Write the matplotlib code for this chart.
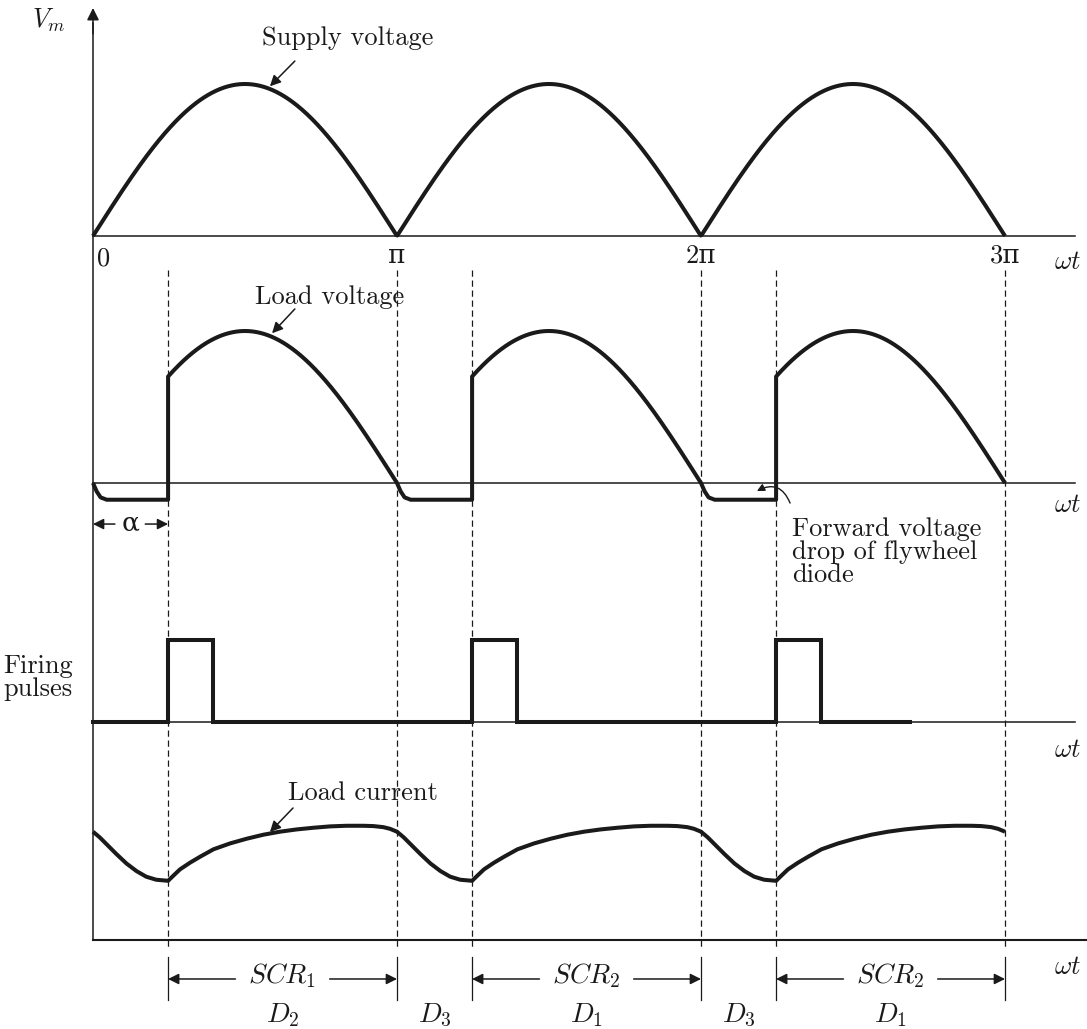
import numpy as np
import matplotlib
matplotlib.use("Agg")
import matplotlib.pyplot as plt
from matplotlib.patches import FancyArrowPatch

plt.rcParams['mathtext.fontset'] = 'cm'
plt.rcParams['font.family'] = ['cmr10', 'DejaVu Serif']
plt.rcParams['axes.unicode_minus'] = False

INK = '#1a1a1a'

# ---- waveform data (angles in units of pi, voltages per unit of Vm) ----
alpha = 0.247            # firing delay angle
pulse_width = 0.148      # gate pulse width
pulse_height = 0.54
pulse_train_end = 2.688
diode_drop = -0.11       # forward drop of the flywheel diode
half_cycles = [0, 1, 2]

tick_positions = [0, 1, 2, 3]
tick_labels = ["0", "π", "2π", "3π"]

# knee of the load voltage as the flywheel diode takes over
knee_offsets = [0.0, 0.012, 0.025, 0.045]
knee_fraction = [0.0, 0.5, 0.86, 1.0]

# load current while freewheeling (offset from k*pi)
fw_offsets = [0.0, 0.022, 0.044, 0.077, 0.110, 0.143, 0.175, 0.208, 0.247]
fw_current = [0.713, 0.676, 0.632, 0.566, 0.504, 0.454, 0.417, 0.397, 0.390]
# load current while an SCR conducts (offset from k*pi)
cond_offsets = [0.247, 0.264, 0.286, 0.319, 0.352, 0.396, 0.451, 0.506, 0.560,
                0.615, 0.670, 0.725, 0.780, 0.834, 0.889, 0.922, 0.955, 0.977, 1.0]
cond_current = [0.390, 0.423, 0.465, 0.509, 0.548, 0.597, 0.636, 0.667, 0.693,
                0.713, 0.728, 0.739, 0.748, 0.752, 0.752, 0.750, 0.743, 0.732, 0.713]

scr_labels = ["$SCR_1$", "$SCR_2$", "$SCR_2$"]
diode_labels = ["$D_2$", "$D_3$", "$D_1$", "$D_3$", "$D_1$"]

# ---- layout: baselines of the stacked traces ----
Y_SUPPLY = 0.0
Y_LOAD = -1.625
Y_FIRE = -3.197
Y_CURR = -4.632
X_END = 3.23

fig = plt.figure(figsize=(10.87, 10.29), dpi=100)
ax = fig.add_axes([0, 0, 1, 1])
ax.set_xlim(-0.3059, 3.2697)
ax.set_ylim(-5.217, 1.5526)
ax.axis('off')

curve_kw = dict(color=INK, lw=2.9, solid_joinstyle='round', solid_capstyle='butt')
axis_kw = dict(color=INK, lw=1.1)

# axes lines
ax.plot([0, 0], [Y_CURR, 1.40], **axis_kw)
ax.annotate('', xy=(0, 1.50), xytext=(0, 1.33),
            arrowprops=dict(arrowstyle='-|>', color=INK, lw=1.1,
                            mutation_scale=18, shrinkA=0, shrinkB=0))
for yb in (Y_SUPPLY, Y_LOAD, Y_FIRE):
    ax.plot([0, X_END], [yb, yb], **axis_kw)
ax.plot([0, 3.2697], [Y_CURR, Y_CURR], color=INK, lw=1.5)

# supply voltage
theta = np.linspace(0, 3, 900)
ax.plot(theta, Y_SUPPLY + np.abs(np.sin(np.pi * theta)), **curve_kw)

# load voltage
lt, lv = [], []
for k in half_cycles:
    for o, f in zip(knee_offsets, knee_fraction):
        lt.append(k + o)
        lv.append(f * diode_drop)
    lt.append(k + alpha)
    lv.append(diode_drop)
    th = np.linspace(k + alpha, k + 1, 300)
    lt.extend(th)
    lv.extend(np.abs(np.sin(np.pi * th)))
ax.plot(lt, Y_LOAD + np.array(lv), **curve_kw)

# firing pulses
ft, fv = [0.0], [0.0]
for k in half_cycles:
    t0 = k + alpha
    ft += [t0, t0, t0 + pulse_width, t0 + pulse_width]
    fv += [0, pulse_height, pulse_height, 0]
ft.append(pulse_train_end)
fv.append(0.0)
ax.plot(ft, Y_FIRE + np.array(fv), color=INK, lw=2.9, solid_joinstyle='miter')

# load current
ct, cv = [], []
for k in half_cycles:
    ct += [k + o for o in fw_offsets]
    cv += fw_current
    ct += [k + o for o in cond_offsets[1:]]
    cv += cond_current[1:]
ax.plot(ct, Y_CURR + np.array(cv), **curve_kw)

# dashed switching instants
switch_points = sorted([k + alpha for k in half_cycles] + [1, 2, 3])
for xs in switch_points:
    ax.plot([xs, xs], [-0.224, -4.678], color=INK, lw=0.9, ls=(0, (5, 3)))
    ax.plot([xs, xs], [-4.743, -5.026], color=INK, lw=0.9)

txt_kw = dict(color=INK, fontsize=19)
math_kw = dict(color=INK, fontsize=19)

# tick labels
ax.text(0.036, -0.15, tick_labels[0], ha='center', va='center', **txt_kw)
for xp, lab in zip(tick_positions[1:], tick_labels[1:]):
    ax.text(xp, -0.13, lab, ha='center', va='center', **txt_kw)

# omega-t labels
for yl in (-0.171, -1.770, -3.382, -4.809):
    ax.text(3.207, yl, r'$\omega t$', ha='center', va='center', **math_kw)

ax.text(-0.145, 1.42, r'$V_m$', ha='center', va='center', **math_kw)

arrow_kw = dict(arrowstyle='-|>', color=INK, lw=1.1, mutation_scale=16,
                shrinkA=0, shrinkB=0)

ax.text(0.839, 1.303, 'Supply voltage', ha='center', va='center', **txt_kw)
ax.annotate('', xy=(0.582, 0.985), xytext=(0.664, 1.151), arrowprops=arrow_kw)

ax.text(0.780, -0.401, 'Load voltage', ha='center', va='center', **txt_kw)
ax.annotate('', xy=(0.589, -0.64), xytext=(0.664, -0.48), arrowprops=arrow_kw)

ax.text(0.888, -3.664, 'Load current', ha='center', va='center', **txt_kw)
ax.annotate('', xy=(0.582, -3.921), xytext=(0.658, -3.763), arrowprops=arrow_kw)

ax.text(2.299, -2.079, 'Forward voltage\ndrop of flywheel\ndiode', ha='left',
        va='center', linespacing=0.95, **txt_kw)
ax.add_patch(FancyArrowPatch((2.293, -1.757), (2.184, -1.678),
                             connectionstyle='arc3,rad=0.55',
                             arrowstyle='-|>', color=INK, lw=1.0,
                             mutation_scale=11, shrinkA=0, shrinkB=0))

ax.text(-0.181, -2.908, 'Firing\npulses', ha='center', va='center',
        linespacing=0.95, **txt_kw)

# alpha dimension
ya = -1.895
ax.text(alpha / 2, ya, 'α', ha='center', va='center', **txt_kw)
ax.annotate('', xy=(0, ya), xytext=(0.072, ya), arrowprops=arrow_kw)
ax.annotate('', xy=(alpha, ya), xytext=(alpha - 0.075, ya), arrowprops=arrow_kw)

# conduction intervals
ys = -4.888
for k, lab in zip(half_cycles, scr_labels):
    a, b = k + alpha, k + 1
    mid = (a + b) / 2
    ax.text(mid, ys + 0.02, lab, ha='center', va='center', color=INK, fontsize=20)
    ax.annotate('', xy=(a, ys), xytext=(mid - 0.155, ys), arrowprops=arrow_kw)
    ax.annotate('', xy=(b, ys), xytext=(mid + 0.155, ys), arrowprops=arrow_kw)

diode_centres = [alpha + (1 - alpha) / 2, 1 + alpha / 2, 1 + alpha + (1 - alpha) / 2,
                 2 + alpha / 2, 2 + alpha + (1 - alpha) / 2]
for xc, lab in zip(diode_centres, diode_labels):
    ax.text(xc, -5.125, lab, ha='center', va='center', color=INK, fontsize=20)

fig.savefig('out.png', dpi=100, facecolor='white')
